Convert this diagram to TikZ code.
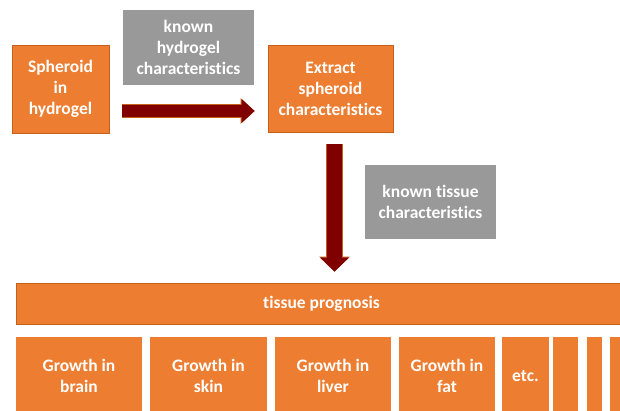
\documentclass[tikz,border=0pt]{standalone}
\usepackage{fontspec}
\setmainfont{Carlito}[Ligatures=NoCommon]
\usepackage{tikz}
\usetikzlibrary{calc,arrows.meta}
\definecolor{boxorange}{RGB}{237,125,49}
\definecolor{boxedge}{RGB}{196,96,28}
\definecolor{infogray}{RGB}{153,153,153}
\definecolor{arrowred}{RGB}{128,0,0}

\tikzset{
  stepbox/.style={draw=boxedge, line width=0.8pt, fill=boxorange, text=white, inner sep=0pt, align=center},
  organbox/.style={fill=boxorange, text=white, inner sep=0pt, align=center, minimum height=78pt},
  infobox/.style={fill=infogray, text=white, inner sep=0pt, align=center},
  flowright/.style={arrowred, line width=12pt, -{Triangle[width=24pt,length=13pt,line width=0pt]},
    preaction={draw=boxedge, line width=13.2pt, -{Triangle[width=25.6pt,length=14pt,line width=0pt]}}},
  flowdown/.style={arrowred, line width=15pt, -{Triangle[width=29pt,length=14pt,line width=0pt]},
    preaction={draw=boxedge, line width=16.2pt, -{Triangle[width=30.6pt,length=15pt,line width=0pt]}}},
}

\begin{document}
\begin{tikzpicture}[x=1pt, y=1pt, font=\fontsize{17.5}{21}\selectfont\bfseries]
  \clip (0,0) rectangle (620,410);

  % top row
  \node[stepbox, minimum width=97pt, minimum height=88pt] (sph) at (60.5,321) {Spheroid\\in\\hydrogel};
  \node[stepbox, minimum width=125pt, minimum height=87pt] (ext) at (330.5,321) {Extract\\spheroid\\characteristics};
  \node[infobox, minimum width=131pt, minimum height=75pt] (hyd) at (188.5,362.5) {known\\hydrogel\\characteristics};
  \node[infobox, minimum width=131pt, minimum height=74pt] (tis) at (430.5,208) {known tissue\\characteristics};

  % prognosis bar, runs past the right edge
  \node[stepbox, minimum width=611pt, minimum height=41pt] (prog) at (321.5,106.5) {tissue prognosis};

  % organ boxes
  \node[organbox, minimum width=126pt] (brain) at (79,34)    {Growth in\\brain};
  \node[organbox, minimum width=117pt] (skin)  at (208.5,34) {Growth in\\skin};
  \node[organbox, minimum width=116pt] (liver) at (333,34)   {Growth in\\liver};
  \node[organbox, minimum width=96pt]  (fat)   at (447,34)   {Growth in\\fat};
  \node[organbox, minimum width=47pt]  (etc)   at (525.5,34) {etc.};
  \node[organbox, minimum width=25pt]  (more1) at (565.5,34) {};
  \node[organbox, minimum width=15pt]  (more2) at (594.5,34) {};
  \node[organbox, minimum width=20pt]  (more3) at (620,34)   {};

  % flow arrows
  \draw[flowright] ($(sph.east)+(13,-22)$) -- ($(ext.west)+(-13,-22)$);
  \draw[flowdown] ($(ext.south)+(4,-11.5)$) -- ($(ext.south |- prog.north)+(4,11)$);
\end{tikzpicture}
\end{document}
